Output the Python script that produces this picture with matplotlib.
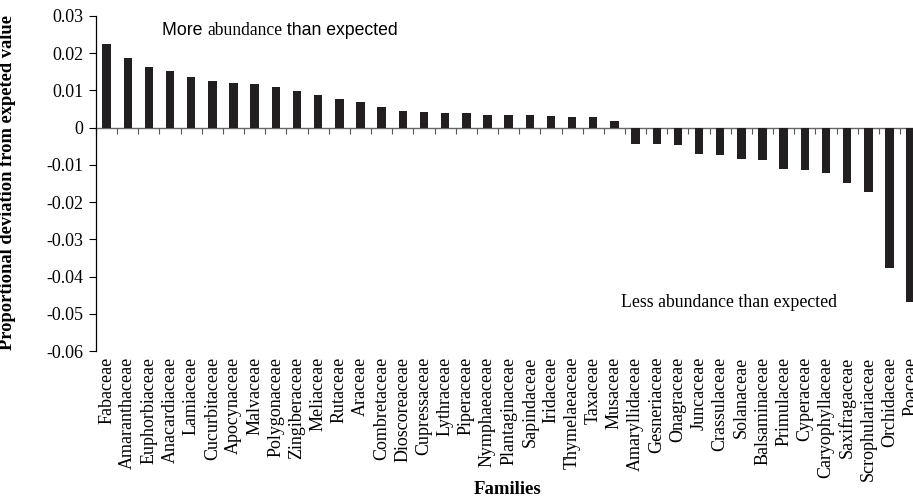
import matplotlib.pyplot as plt
from matplotlib.ticker import FixedLocator, NullFormatter

families = ['Fabaceae', 'Amaranthaceae', 'Euphorbiaceae', 'Anacardiaceae', 'Lamiaceae',
            'Cucurbitaceae', 'Apocynaceae', 'Malvaceae', 'Polygonaceae', 'Zingiberaceae',
            'Meliaceae', 'Rutaceae', 'Araceae', 'Combretaceae', 'Dioscoreaceae',
            'Cupressaceae', 'Lythraceae', 'Piperaceae', 'Nymphaeaceae', 'Plantaginaceae',
            'Sapindaceae', 'Iridaceae', 'Thymelaeaceae', 'Taxaceae', 'Musaceae',
            'Amaryllidaceae', 'Gesneriaceae', 'Onagraceae', 'Juncaceae', 'Crassulaceae',
            'Solanaceae', 'Balsaminaceae', 'Primulaceae', 'Cyperaceae', 'Caryophyllaceae',
            'Saxifragaceae', 'Scrophulariaceae', 'Orchidaceae', 'Poaceae']

deviation = [0.0224, 0.0187, 0.0163, 0.0152, 0.0136,
             0.0125, 0.0120, 0.0118, 0.0109, 0.0099,
             0.0087, 0.0077, 0.0069, 0.0056, 0.0044,
             0.0043, 0.0040, 0.0039, 0.0035, 0.0035,
             0.0033, 0.0031, 0.0030, 0.0029, 0.0018,
             -0.0043, -0.0045, -0.0046, -0.0072, -0.0074,
             -0.0085, -0.0087, -0.0110, -0.0114, -0.0123,
             -0.0149, -0.0172, -0.0376, -0.0469]

yticks = [0.03, 0.02, 0.01, 0, -0.01, -0.02, -0.03, -0.04, -0.05, -0.06]
ytick_labels = ['0.03', '0.02', '0.01', '0', '-0.01', '-0.02', '-0.03', '-0.04', '-0.05', '-0.06']

serif = 'Liberation Serif'
sans = 'Liberation Sans'
plt.rcParams['font.family'] = serif

W, H = 913, 496
fig = plt.figure(figsize=(W / 100, H / 100), dpi=100)
ax = fig.add_axes([96 / W, 145 / H, 39 * 21.16 / W, 335 / H])

x = list(range(len(families)))
ax.bar(x, deviation, width=0.4, color='#231f20', zorder=3)

ax.set_xlim(-0.5, len(families) - 0.5)
ax.set_ylim(-0.06, 0.03)
ax.set_yticks(yticks)
ax.set_yticklabels(ytick_labels)
ax.tick_params(axis='y', direction='out', length=5, width=0.8, pad=4, labelsize=13)

ax.set_xticks(x)
ax.set_xticklabels(families, rotation=90)
ax.tick_params(axis='x', length=0, pad=4, labelsize=13)

for s in ['top', 'right', 'bottom']:
    ax.spines[s].set_visible(False)
ax.spines['left'].set_linewidth(0.9)

# zero line with category boundary ticks
zero_ax = ax.secondary_xaxis(0, transform=ax.transData)
zero_ax.xaxis.set_major_locator(FixedLocator([i - 0.5 for i in range(len(families) + 1)]))
zero_ax.xaxis.set_major_formatter(NullFormatter())
zero_ax.tick_params(axis='x', direction='out', length=4, width=0.8, color='#555555')
zero_ax.spines['bottom'].set_color('#666666')
zero_ax.spines['bottom'].set_linewidth(1.0)

ax.set_ylabel('Proportional deviation from expeted value', fontweight='bold', fontsize=13.3)
ax.yaxis.set_label_coords(16 / W, 1 - 183 / H, transform=fig.transFigure)
fig.text(508 / W, 1 - 489 / H, 'Families', fontweight='bold',
         fontsize=13.5, ha='center', va='center')

# mixed-font annotation
fig.canvas.draw()
r = fig.canvas.get_renderer()
by = 1 - 35 / H
px = 162
for part, fam in [('More ', sans), ('abundance', serif), (' than expected', sans)]:
    t = fig.text(px / W, by, part, fontfamily=fam, fontsize=12.7, va='baseline')
    px = t.get_window_extent(r).x1

fig.text(621 / W, 1 - 306.7 / H, 'Less abundance than expected', fontsize=12.8, va='baseline')

fig.savefig('out.png', dpi=100)
